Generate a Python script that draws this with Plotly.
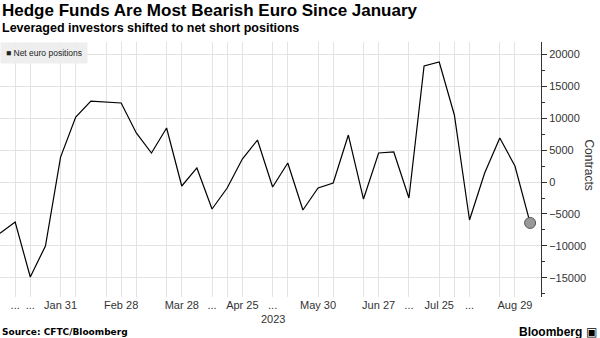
import plotly.graph_objects as go
import pandas as pd

# Weekly CFTC dates (Tuesdays) 2023
dates = pd.date_range("2023-01-03", periods=36, freq="7D")
net_positions = [-8000, -6250, -14840, -10000, 3900, 10150, 12650, 12500, 12340, 7660,
                 4530, 8440, -625, 2190, -4220, -940, 3590, 6560, -780, 2970,
                 -4375, -940, -160, 7340, -2660, 4530, 4690, -2500, 18125, 18750,
                 10470, -5940, 1400, 6875, 2500, -6400]

grid_idx = [1, 2, 4, 5, 7, 8, 9, 11, 12, 14, 15, 16, 18, 19, 21, 22, 24, 25, 27, 29, 30, 31, 33, 34]
tick_labels = {1: "...", 2: "...", 4: "Jan 31", 8: "Feb 28", 12: "Mar 28", 14: "...",
               16: "Apr 25", 18: "...", 21: "May 30", 25: "Jun 27", 27: "...",
               29: "Jul 25", 31: "...", 34: "Aug 29"}
tickvals = [dates[i] for i in grid_idx]
ticktext = [tick_labels.get(i, "") for i in grid_idx]
series_name = "Net euro positions"

fig = go.Figure()
fig.add_trace(go.Scatter(x=list(dates), y=net_positions, mode="lines", name=series_name,
                         line=dict(color="black", width=1.2), showlegend=False))
fig.add_trace(go.Scatter(x=[dates[-1]], y=[net_positions[-1]], mode="markers",
                         marker=dict(size=11, color="#999999", line=dict(color="#555555", width=1)),
                         showlegend=False))

x_end = dates[0] + pd.Timedelta(days=7 * 35.72)
fig.update_layout(
    width=600, height=338,
    margin=dict(l=0, r=59, t=42, b=41),
    paper_bgcolor="white", plot_bgcolor="white",
    font=dict(family="Liberation Sans, Arial, sans-serif", color="#222"),
    showlegend=False,
    xaxis=dict(range=[dates[0], x_end], tickmode="array", tickvals=tickvals,
               ticktext=ticktext, showgrid=True, gridcolor="#e3e3e3", gridwidth=1,
               ticks="", showline=False, zeroline=False,
               tickfont=dict(size=11, color="#333"), tickangle=0),
    yaxis=dict(side="right", range=[-17970, 21875], dtick=5000, tick0=0,
               tickformat="d", showgrid=True, gridcolor="#e3e3e3", gridwidth=1,
               zeroline=False, showline=True, linecolor="#333", linewidth=1,
               ticks="outside", ticklen=5, tickcolor="#333",
               minor=dict(dtick=2500, ticks="outside", ticklen=3, tickcolor="#333", showgrid=False),
               tickfont=dict(size=11, color="#333")),
)

fig.add_annotation(text="■ " + series_name, xref="paper", yref="paper", x=0, y=1,
                   xanchor="left", yanchor="top", showarrow=False, bgcolor="#eeeeee",
                   borderpad=5, font=dict(size=8.5, color="#222"))
fig.add_annotation(text="<b>Hedge Funds Are Most Bearish Euro Since January</b>",
                   xref="paper", yref="paper", x=0, y=1, xanchor="left", yanchor="top",
                   xshift=0, yshift=43, showarrow=False,
                   font=dict(size=17, color="black", family="Liberation Sans, Arial, sans-serif"))
fig.add_annotation(text="<b>Leveraged investors shifted to net short positions</b>",
                   xref="paper", yref="paper", x=0, y=1, xanchor="left", yanchor="top",
                   yshift=23, showarrow=False,
                   font=dict(size=12.5, color="black", family="Liberation Sans, Arial, sans-serif"))
fig.add_annotation(text="Contracts", xref="paper", yref="paper", x=1, y=0.52,
                   xanchor="center", yanchor="middle", xshift=48, textangle=90,
                   showarrow=False, font=dict(size=12, color="#333"))
fig.add_annotation(text="2023", xref="x", yref="paper", x=dates[18], y=0,
                   yanchor="top", yshift=-14, showarrow=False,
                   font=dict(size=11, color="#333"))
fig.add_annotation(text="<b>Source: CFTC/Bloomberg</b>", xref="paper", yref="paper",
                   x=0, y=0, xanchor="left", yanchor="top", xshift=0, yshift=-28,
                   showarrow=False, font=dict(size=9, color="black", family="DejaVu Sans, sans-serif"))
fig.add_annotation(text="<b>Bloomberg</b> ▣", xref="paper", yref="paper",
                   x=1, y=0, xanchor="right", yanchor="top", xshift=58, yshift=-26,
                   showarrow=False, font=dict(size=12, color="black"))

fig.write_html("out.html")
